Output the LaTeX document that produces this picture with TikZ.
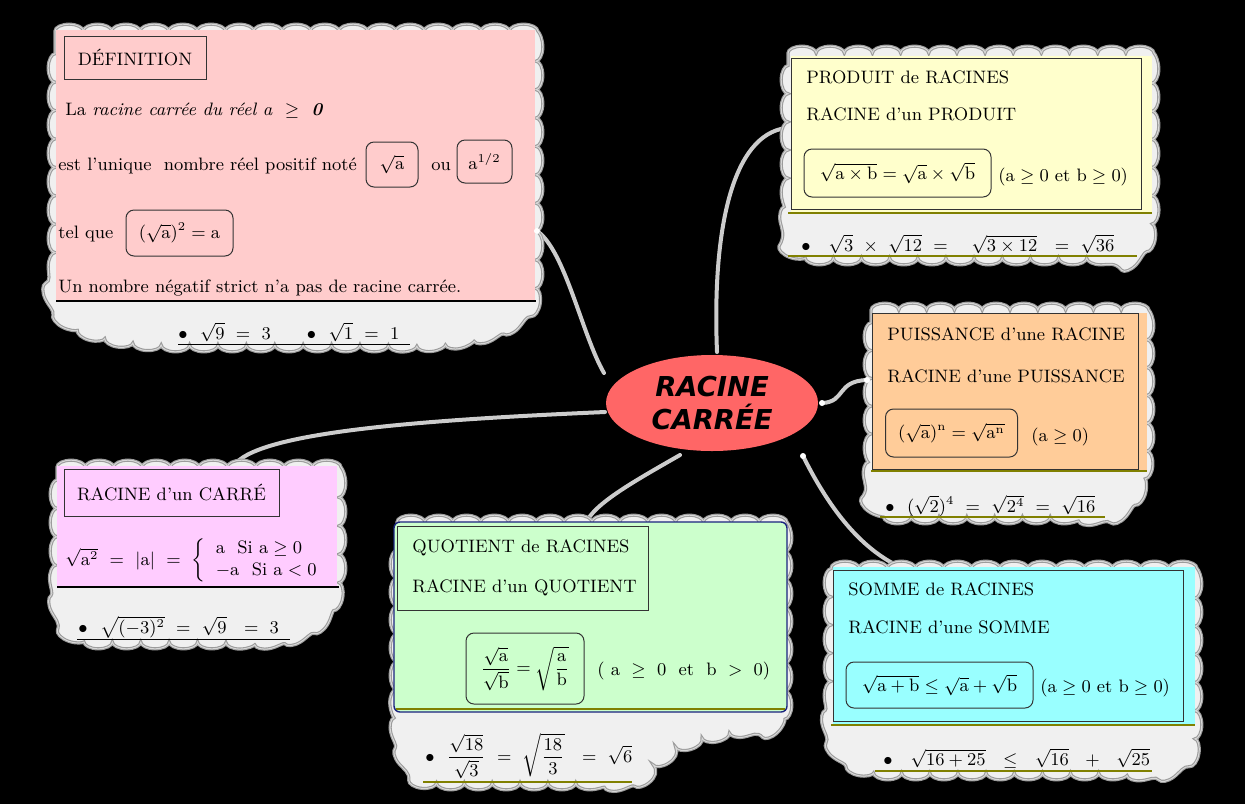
\documentclass[tikz,border=0pt]{standalone}
\usepackage{amsmath}
\usepackage{fontspec}
\usetikzlibrary{decorations.pathmorphing,shapes.geometric}
\newfontfamily\centerfont{DejaVu Sans Bold Oblique}
\definecolor{defpink}{HTML}{FFCCCC}
\definecolor{prodyel}{HTML}{FFFFCC}
\definecolor{puisorg}{HTML}{FFCC99}
\definecolor{carrpink}{HTML}{FFCCFF}
\definecolor{quotgreen}{HTML}{CCFFCC}
\definecolor{sommcyan}{HTML}{99FFFF}
\definecolor{cloudfill}{HTML}{F0F0F0}
\definecolor{cloudrim}{HTML}{9C9C9C}
\definecolor{cloudhi}{HTML}{D8D8D8}
\definecolor{linkgray}{HTML}{CCCCCC}
\definecolor{centred}{HTML}{FF6666}
\definecolor{olivel}{HTML}{808000}
\definecolor{quotblue}{HTML}{1A237E}
\newcommand\mmcloud[2]{%
  \path[cloudbase=#1, fill=cloudfill, draw=cloudrim, line width=1.6pt] #2;
  \path[cloudbase=#1, draw=cloudhi, line width=0.5pt] #2;}
\begin{document}
\begin{tikzpicture}[x=0.5pt,y=-0.5pt,
  txt/.style={anchor=base west, inner sep=0pt, font=\fontsize{9}{11}\selectfont, text=black},
  titlebox/.style={draw=black!80, line width=0.5pt, inner sep=0pt, font=\fontsize{9}{11}\selectfont},
  formbox/.style={draw=black!80, line width=0.5pt, rounded corners=4pt, inner sep=0pt, font=\fontsize{9}{11}\selectfont},
  cloudbase/.style={decorate, decoration={bumps, segment length=#1, amplitude=3.4pt}},
  link/.style={draw=linkgray, line width=2pt, line cap=round},
  enddot/.style={fill=white, draw=none},
  sepline/.style={line width=0.6pt},
]
\useasboundingbox (0,0) rectangle (1245,804);
\fill[black] (0,0) rectangle (1245,804);

% connectors
\coordinate (lkdefA) at (604,373); \coordinate (lkdefB) at (537,231);
\coordinate (lkprodA) at (717,352); \coordinate (lkprodB) at (786,128);
\coordinate (lkpuisA) at (822,403); \coordinate (lkpuisB) at (867,380);
\coordinate (lksommA) at (803,456); \coordinate (lksommB) at (898,566);
\coordinate (lkcarrA) at (605,412); \coordinate (lkcarrB) at (236,463);
\coordinate (lkquotA) at (680,455); \coordinate (lkquotB) at (588,519);
\draw[link] (lkdefA) .. controls (582,335) and (565,250) .. (lkdefB);
\draw[link] (lkprodA) .. controls (712,230) and (732,135) .. (lkprodB);
\draw[link] (lkpuisA) .. controls (846,402) and (836,381) .. (lkpuisB);
\draw[link] (lksommA) .. controls (825,500) and (855,545) .. (lksommB);
\draw[link] (lkcarrA) .. controls (420,420) and (265,432) .. (lkcarrB);
\draw[link] (lkquotA) .. controls (640,478) and (600,500) .. (lkquotB);

% central node
\node[ellipse, fill=centred, minimum width=106pt, minimum height=48pt, inner sep=0pt, align=center,
      font=\centerfont\fontsize{13.7}{16.5}\selectfont] (center) at (712,403) {RACINE\\CARRÉE};

% ---------- DEFINITION ----------
\mmcloud{28.4pt}{(55,31) -- (536,31) -- (536,284.6) .. controls (533,330) and (470,345) .. (410,345) -- (185,345) .. controls (110,345) and (58,330) .. (55,300) -- cycle}
\fill[defpink] (56,30) rectangle (535,301);
\draw[black, sepline] (56,301) -- (536,301);
\node[titlebox, minimum width=71pt, minimum height=21.5pt] (deftitle) at (135,57.5) {DÉFINITION};
\node[txt] (defla) at (65,115) {La \textit{racine carrée du réel a}~~$\geq$~~\textbf{\textit{0}}};
\node[txt] (deflb) at (58,170) {est l'unique~ nombre réel positif noté};
\node[formbox, minimum width=26pt, minimum height=22.5pt] (defsqrt) at (392,164.5) {$\sqrt{\mathrm{a}}$};
\node[txt] (defou) at (431,170) {ou};
\node[formbox, minimum width=27.5pt, minimum height=21.5pt] (defpow) at (484.5,161.5) {$\mathrm{a}^{1/2}$};
\node[txt] (deflc) at (58,238) {tel que};
\node[formbox, minimum width=53.5pt, minimum height=23pt] (defeq) at (179.5,233) {$(\sqrt{\mathrm{a}})^2=\mathrm{a}$};
\node[txt] (defld) at (58,292) {Un nombre négatif strict n'a pas de racine carrée.};
\node[txt] (defex) at (178,339) {$\bullet$\ \ $\sqrt{9}\ =\ 3$\qquad$\bullet$\ \ $\sqrt{1}\ =\ 1$};
\draw[black, line width=0.5pt] (178,344) -- (410,344);

% ---------- PRODUIT ----------
\mmcloud{28.15pt}{(788,53) -- (1152,53) -- (1152,191.8) .. controls (1153,250) and (1140,258) .. (1115,258) -- (820,258) .. controls (795,258) and (788,245) .. (788,215) -- cycle}
\fill[prodyel] (791,56) rectangle (1152,213);
\node[titlebox, minimum width=175pt, minimum height=75.5pt] (prodframe) at (966,133.5) {};
\draw[olivel, sepline] (788,213) -- (1152,213);
\node[txt] (prodta) at (806,83) {PRODUIT de RACINES};
\node[txt] (prodtb) at (806,120) {RACINE d'un PRODUIT};
\node[formbox, minimum width=93.5pt, minimum height=24pt] (prodeq) at (897.5,173) {$\sqrt{\mathrm{a}\times\mathrm{b}}=\sqrt{\mathrm{a}}\times\sqrt{\mathrm{b}}$};
\node[txt] (prodcond) at (998,181) {$(\mathrm{a}\geq 0$ et $\mathrm{b}\geq 0)$};
\node[txt] (prodex) at (801,251) {$\bullet$\quad$\sqrt{3}\ \times\ \sqrt{12}\ =\ \ \ \sqrt{3\times 12}\ \ =\ \sqrt{36}$};
\draw[olivel, sepline] (788,256) -- (1137,256);

% ---------- PUISSANCE ----------
\mmcloud{27.8pt}{(871,310) -- (1147,310) -- (1147,447) .. controls (1145,505) and (1120,517) .. (1090,517) -- (895,517) .. controls (878,517) and (871,500) .. (871,470) -- cycle}
\fill[puisorg] (872,313) rectangle (1147,471);
\node[titlebox, minimum width=133pt, minimum height=78pt] (puisframe) at (1005,391) {};
\draw[olivel, sepline] (871,471) -- (1147,471);
\node[txt] (puista) at (887,340) {PUISSANCE d'une RACINE};
\node[txt] (puistb) at (887,382) {RACINE d'une PUISSANCE};
\node[formbox, minimum width=66pt, minimum height=24pt] (puiseq) at (951.5,433) {$(\sqrt{\mathrm{a}})^{\mathrm{n}}=\sqrt{\mathrm{a}^{\mathrm{n}}}$};
\node[txt] (puiscond) at (1031,441) {$(\mathrm{a}\geq 0)$};
\node[txt] (puisex) at (885,512) {$\bullet$\ \ $(\sqrt{2})^4\ =\ \sqrt{2^4}\ =\ \sqrt{16}$};
\draw[olivel, sepline] (880,517) -- (1105,517);

% ---------- CARRE ----------
\mmcloud{28.4pt}{(57,467) -- (339,467) -- (339,578.6) .. controls (333,625) and (300,642) .. (250,642) -- (100,642) .. controls (70,642) and (57,620) .. (57,587) -- cycle}
\fill[carrpink] (57,466) rectangle (337,587);
\draw[black, sepline] (57,587) -- (339,587);
\node[titlebox, minimum width=107.5pt, minimum height=23.5pt] (carrtitle) at (171.5,492.5) {RACINE d'un CARRÉ};
\node[txt] (carreq) at (65,565) {$\sqrt{\mathrm{a}^2}\ =\ |\mathrm{a}|\ =\ \left\{\begin{array}{l}\mathrm{a}\ \ \mathrm{Si}\ \mathrm{a}\geq 0\\ -\mathrm{a}\ \ \mathrm{Si}\ \mathrm{a}<0\end{array}\right.$};
\node[txt] (carrex) at (78,633) {$\bullet$\ \ $\sqrt{(-3)^2}\ =\ \sqrt{9}\ \ =\ 3$};
\draw[black, line width=0.5pt] (77,639) -- (290,639);

% ---------- QUOTIENT ----------
\mmcloud{27.86pt}{(397,522) -- (785,522) -- (785,715) .. controls (780,732) and (700,728) .. (670,755) .. controls (650,775) and (640,783) .. (610,783) -- (440,783) .. controls (410,783) and (397,750) .. (397,710) -- cycle}
\draw[fill=quotgreen, draw=quotblue, line width=0.7pt, rounded corners=3pt] (394,522) rectangle (787,712);
\draw[olivel, sepline] (396,709) -- (785,709);
\node[titlebox, minimum width=125.5pt, minimum height=42pt] (quotframe) at (522.5,568) {};
\node[txt] (quotta) at (412,552) {QUOTIENT de RACINES};
\node[txt] (quottb) at (412,592) {RACINE d'un QUOTIENT};
\node[formbox, minimum width=59pt, minimum height=35.5pt] (quoteq) at (525,668.5) {$\dfrac{\sqrt{\mathrm{a}}}{\sqrt{\mathrm{b}}}=\sqrt{\dfrac{\mathrm{a}}{\mathrm{b}}}$};
\node[txt] (quotcond) at (597,675) {$(\ \mathrm{a}\ \geq\ 0$\ \ et\ \ $\mathrm{b}\ >\ 0)$};
\node[txt] (quotex) at (425,762) {$\bullet$\ \ $\dfrac{\sqrt{18}}{\sqrt{3}}\ =\ \sqrt{\dfrac{18}{3}}\ \ =\ \sqrt{6}$};
\draw[olivel, sepline] (423,782) -- (632,782);

% ---------- SOMME ----------
\mmcloud{28.15pt}{(831,568) -- (1195,568) -- (1195,734.9) .. controls (1192,765) and (1170,773) .. (1140,773) -- (890,773) .. controls (850,773) and (831,750) .. (831,725) -- cycle}
\fill[sommcyan] (833,567) rectangle (1195,725);
\node[titlebox, minimum width=175pt, minimum height=75.5pt] (sommframe) at (1008,645.5) {};
\draw[olivel, sepline] (831,725) -- (1195,725);
\node[txt] (sommta) at (848,595) {SOMME de RACINES};
\node[txt] (sommtb) at (848,633) {RACINE d'une SOMME};
\node[formbox, minimum width=93.5pt, minimum height=23pt] (sommeq) at (939.5,685) {$\sqrt{\mathrm{a}+\mathrm{b}}\leq\sqrt{\mathrm{a}}+\sqrt{\mathrm{b}}$};
\node[txt] (sommcond) at (1040,692) {$(\mathrm{a}\geq 0$ et $\mathrm{b}\geq 0)$};
\node[txt] (sommex) at (883,765) {$\bullet$\quad$\sqrt{16+25}\ \ \leq\ \ \sqrt{16}\ \ +\ \ \sqrt{25}$};
\draw[olivel, sepline] (875,771) -- (1152,771);

% end dots
\fill[enddot] (lkdefB) circle (3);
\fill[enddot] (lkpuisA) circle (3);
\fill[enddot] (lkpuisB) circle (3);
\fill[enddot] (lksommA) circle (3);
\end{tikzpicture}
\end{document}
